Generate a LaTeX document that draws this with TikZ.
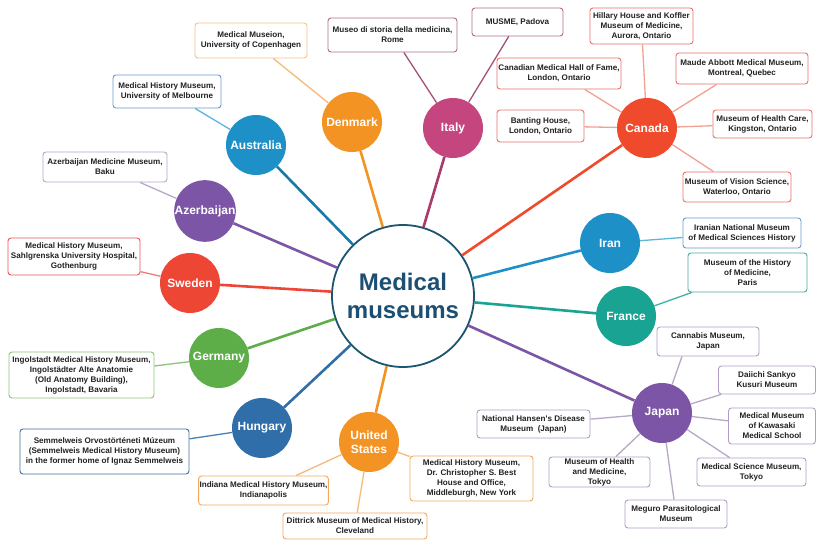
\documentclass[tikz,border=0pt]{standalone}
\usepackage{fontspec}
\newfontfamily\lsans{Liberation Sans}
\definecolor{titlec}{HTML}{1D4F73}
\definecolor{hubc}{HTML}{1D5470}
\definecolor{cOrange}{HTML}{F39323}
\definecolor{cBlue}{HTML}{1E90C8}
\definecolor{cPurple}{HTML}{7D55A6}
\definecolor{cItaly}{HTML}{C5467F}
\definecolor{cCanada}{HTML}{EF4A2B}
\definecolor{cSweden}{HTML}{EE4634}
\definecolor{cGreen}{HTML}{5DAE48}
\definecolor{cHungary}{HTML}{306EA9}
\definecolor{cTeal}{HTML}{19A392}
\definecolor{lOrange}{HTML}{F6B977}
\definecolor{lBlue}{HTML}{5BB6D9}
\definecolor{lPurple}{HTML}{B8A8C8}
\definecolor{lItaly}{HTML}{A0527A}
\definecolor{lCanada}{HTML}{F2A090}
\definecolor{lSweden}{HTML}{EF7A78}
\definecolor{lGreen}{HTML}{8CC47A}
\definecolor{lHungary}{HTML}{4A7FB5}
\definecolor{lTeal}{HTML}{3FB0A6}
\definecolor{bOrange}{HTML}{F2A85A}
\definecolor{bBlue}{HTML}{6A9BCF}
\definecolor{bPurple}{HTML}{B9A6C9}
\definecolor{bItaly}{HTML}{B06A8E}
\definecolor{bCanada}{HTML}{E8736A}
\definecolor{bSweden}{HTML}{E8555A}
\definecolor{bGreen}{HTML}{8CC47A}
\definecolor{bHungary}{HTML}{44719E}
\definecolor{bTeal}{HTML}{48AAA0}
\definecolor{bJapan}{HTML}{B49CC8}
\definecolor{boxtext}{HTML}{222222}
\begin{document}
\begin{tikzpicture}[x=1pt,y=-1pt,
  country/.style={circle, minimum size=60pt, inner sep=0pt, text=white,
    font=\lsans\bfseries\fontsize{12}{14}\selectfont, align=center},
  mbox/.style={draw, rounded corners=3pt, fill=white, align=center,
    font=\lsans\bfseries\fontsize{8.1}{10}\selectfont, text=boxtext,
    line width=0.9pt, inner sep=1pt},
  spoke/.style={line width=2.6pt},
  twig/.style={line width=1.3pt}]
\fill[white] (0,0) rectangle (817,540);
\useasboundingbox (0,0) rectangle (817,540);

% hub
\node[circle, minimum size=142pt, inner sep=0pt, draw=hubc, line width=1.8pt, fill=white,
  text=titlec, font=\lsans\bfseries\fontsize{24}{28}\selectfont, align=center]
  (hub) at (403,296) {Medical\\museums};

% countries
\node[country, fill=cOrange] (dk) at (352,122) {Denmark};
\node[country, fill=cBlue] (au) at (256,145) {Australia};
\node[country, fill=cPurple] (az) at (205,211) {Azerbaijan};
\node[country, fill=cItaly] (it) at (453,128) {Italy};
\node[country, fill=cCanada] (ca) at (647,128) {Canada};
\node[country, fill=cBlue] (ir) at (610,243) {Iran};
\node[country, fill=cSweden] (se) at (190,283) {Sweden};
\node[country, fill=cGreen] (de) at (219,358) {Germany};
\node[country, fill=cHungary] (hu) at (262,428) {Hungary};
\node[country, fill=cOrange] (us) at (369,442) {United\\States};
\node[country, fill=cTeal] (fr) at (626,316) {France};
\node[country, fill=cPurple] (jp) at (662,413) {Japan};

% museum boxes
\node[mbox, draw=bOrange!70, minimum width=112pt, minimum height=35pt] (b1) at (251,40.5) {Medical Museion,\\University of Copenhagen};
\node[mbox, draw=bBlue, minimum width=108pt, minimum height=33pt] (b2) at (167,91.5) {Medical History Museum,\\University of Melbourne};
\node[mbox, draw=bPurple, minimum width=124pt, minimum height=30pt] (b3) at (105,167) {Azerbaijan Medicine Museum,\\Baku};
\node[mbox, draw=bSweden, minimum width=132pt, minimum height=37pt] (b4) at (74,256.5) {Medical History Museum,\\Sahlgrenska University Hospital,\\Gothenburg};
\node[mbox, draw=bItaly, minimum width=129pt, minimum height=34pt] (b5) at (392.5,35) {Museo di storia della medicina,\\Rome};
\node[mbox, draw=bItaly, minimum width=91pt, minimum height=28pt] (b6) at (517.5,22) {MUSME, Padova};
\node[mbox, draw=bCanada, minimum width=103pt, minimum height=36pt] (b7) at (641.5,26) {Hillary House and Koffler\\Museum of Medicine,\\Aurora, Ontario};
\node[mbox, draw=bCanada, minimum width=124pt, minimum height=31pt] (b8) at (559,73.5) {Canadian Medical Hall of Fame,\\London, Ontario};
\node[mbox, draw=bCanada, minimum width=132pt, minimum height=31pt] (b9) at (742,68.5) {Maude Abbott Medical Museum,\\Montreal, Quebec};
\node[mbox, draw=bCanada, minimum width=87pt, minimum height=32pt] (b10) at (540.5,126) {Banting House,\\London, Ontario};
\node[mbox, draw=bCanada, minimum width=99pt, minimum height=28pt] (b11) at (762.5,124) {Museum of Health Care,\\Kingston, Ontario};
\node[mbox, draw=bCanada, minimum width=108pt, minimum height=30pt] (b12) at (737,187) {Museum of Vision Science,\\Waterloo, Ontario};
\node[mbox, draw=bBlue, minimum width=118pt, minimum height=30pt] (b13) at (742,233) {Iranian National Museum\\of Medical Sciences History};
\node[mbox, draw=bTeal, minimum width=119pt, minimum height=39pt] (b14) at (747.5,272.5) {Museum of the History\\of Medicine,\\Paris};
\node[mbox, draw=bGreen, minimum width=145pt, minimum height=46pt] (b15) at (81.5,375) {Ingolstadt Medical History Museum,\\Ingolstädter Alte Anatomie\\(Old Anatomy Building),\\Ingolstadt, Bavaria};
\node[mbox, draw=bHungary, minimum width=169pt, minimum height=45pt] (b16) at (104.5,451.5) {Semmelweis Orvostörténeti Múzeum\\(Semmelweis Medical History Museum)\\in the former home of Ignaz Semmelweis};
\node[mbox, draw=bOrange, minimum width=129pt, minimum height=29pt] (b17) at (263.5,490.5) {Indiana Medical History Museum,\\Indianapolis};
\node[mbox, draw=bOrange, minimum width=144pt, minimum height=26pt] (b18) at (355,526) {Dittrick Museum of Medical History,\\Cleveland};
\node[mbox, draw=bOrange, minimum width=123pt, minimum height=45pt] (b19) at (471.5,478.5) {Medical History Museum,\\Dr. Christopher S. Best\\House and Office,\\Middleburgh, New York};
\node[mbox, draw=bJapan, minimum width=102pt, minimum height=29pt] (b20) at (708,341.5) {Cannabis Museum,\\Japan};
\node[mbox, draw=bJapan, minimum width=97pt, minimum height=28pt] (b21) at (767,380) {Daiichi Sankyo\\Kusuri Museum};
\node[mbox, draw=bJapan, minimum width=87pt, minimum height=36pt] (b22) at (772,426) {Medical Museum\\of Kawasaki\\Medical School};
\node[mbox, draw=bJapan, minimum width=113pt, minimum height=28pt] (b23) at (533.5,424) {National Hansen's Disease\\Museum~~(Japan)};
\node[mbox, draw=bJapan, minimum width=101pt, minimum height=30pt] (b24) at (599.5,472) {Museum of Health\\and Medicine,\\Tokyo};
\node[mbox, draw=bJapan, minimum width=109pt, minimum height=28pt] (b25) at (751.5,472) {Medical Science Museum,\\Tokyo};
\node[mbox, draw=bJapan, minimum width=102pt, minimum height=28pt] (b26) at (676,514) {Meguro Parasitological\\Museum};

% spokes from hub
\draw[spoke, cOrange] (hub) -- (dk);
\draw[spoke, cBlue!85!black] (hub) -- (au);
\draw[spoke, cPurple] (hub) -- (az);
\draw[spoke, cItaly!85!black] (hub) -- (it);
\draw[spoke, cCanada] (hub) -- (ca);
\draw[spoke, cBlue] (hub) -- (ir);
\draw[spoke, cSweden] (hub) -- (se);
\draw[spoke, cGreen] (hub) -- (de);
\draw[spoke, cHungary] (hub) -- (hu);
\draw[spoke, cOrange] (hub) -- (us);
\draw[spoke, cTeal] (hub) -- (fr);
\draw[spoke, cPurple] (hub) -- (jp);

% twigs to museums
\draw[twig, lOrange] (dk) -- (b1);
\draw[twig, lBlue] (au) -- (b2);
\draw[twig, lPurple] (az) -- (b3);
\draw[twig, lSweden] (se) -- (b4);
\draw[twig, lItaly] (it) -- (b5);
\draw[twig, lItaly] (it) -- (b6);
\draw[twig, lCanada] (ca) -- (b7);
\draw[twig, lCanada] (ca) -- (b8);
\draw[twig, lCanada] (ca) -- (b9);
\draw[twig, lCanada] (ca) -- (b10);
\draw[twig, lCanada] (ca) -- (b11);
\draw[twig, lCanada] (ca) -- (b12);
\draw[twig, lBlue] (ir) -- (b13);
\draw[twig, lTeal] (fr) -- (b14);
\draw[twig, lGreen] (de) -- (b15);
\draw[twig, lHungary] (hu) -- (b16);
\draw[twig, lOrange] (us) -- (b17);
\draw[twig, lOrange] (us) -- (b18);
\draw[twig, lOrange] (us) -- (b19);
\draw[twig, lPurple] (jp) -- ([xshift=-26pt]b20.south);
\draw[twig, lPurple] (jp) -- (b21);
\draw[twig, lPurple] (jp) -- (b22);
\draw[twig, lPurple] (jp) -- (b23);
\draw[twig, lPurple] (jp) -- (b24);
\draw[twig, lPurple] (jp) -- (b25);
\draw[twig, lPurple] (jp) -- (b26);
\end{tikzpicture}
\end{document}
